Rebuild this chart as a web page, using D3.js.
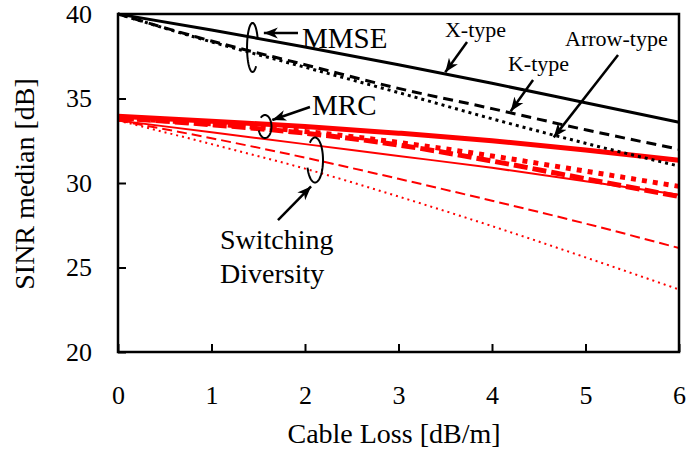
<!DOCTYPE html>
<html lang="en">
<head>
<meta charset="utf-8">
<script src="https://cdn.jsdelivr.net/npm/d3@7"></script>
<style>
  body { margin: 0; background: #fff; }
  svg, svg text { font-family: "Liberation Serif", "Times New Roman", Times, "DejaVu Serif", serif; fill: #000; }
</style>
<title></title>
</head>
<body>
<script>
// cable loss [dB/m]
var cableLoss = [0, 1, 2, 3, 4, 5, 6];

// MMSE (black)
var mmseX     = [40, 39.05, 38.05, 37.0, 35.9, 34.75, 33.6];
var mmseK     = [40, 38.4, 37.0, 35.6, 34.4, 33.15, 32.0];
var mmseArrow = [40, 38.35, 36.85, 35.35, 33.8, 32.35, 31.0];

// MRC (thick red)
var mrcX     = [33.95, 33.65, 33.35, 32.95, 32.5, 31.95, 31.35];
var mrcK     = [33.85, 33.45, 32.95, 32.25, 31.3, 30.25, 29.2];
var mrcArrow = [33.85, 33.5, 33.05, 32.4, 31.6, 30.7, 29.8];

// switching diversity (thin red)
var sdX     = [33.7, 33.0, 32.3, 31.6, 30.9, 30.1, 29.3];
var sdK     = [33.7, 32.65, 31.5, 30.25, 28.95, 27.6, 26.15];
var sdArrow = [33.7, 32.3, 30.85, 29.2, 27.45, 25.6, 23.7];

var xTicks = [0, 1, 2, 3, 4, 5, 6];
var yTicks = [20, 25, 30, 35, 40];

var serif = "'Liberation Serif', 'Times New Roman', Times, 'DejaVu Serif', serif";
var width = 687, height = 452;
var x = d3.scaleLinear().domain([0, 6]).range([118, 679]);
var y = d3.scaleLinear().domain([20, 40]).range([352, 14]);

var svg = d3.select("body").append("svg")
  .attr("width", width).attr("height", height)
  .attr("font-family", serif);

svg.append("defs").append("marker")
  .attr("id", "head")
  .attr("markerUnits", "userSpaceOnUse")
  .attr("viewBox", "-14 -6 15 12")
  .attr("markerWidth", 15).attr("markerHeight", 12)
  .attr("refX", 0).attr("refY", 0)
  .attr("orient", "auto")
  .append("path")
  .attr("d", "M0,0L-14,-5.5L-10,0L-14,5.5Z")
  .attr("fill", "#000");

// series, drawn back to front
var series = [
  {v: sdArrow, color: "red", w: 2, dash: "2,4"},
  {v: sdK, color: "red", w: 2, dash: "10,5"},
  {v: sdX, color: "red", w: 2, dash: null},
  {v: mrcK, color: "red", w: 5, dash: "14,5"},
  {v: mrcArrow, color: "red", w: 5, dash: "5,6"},
  {v: mrcX, color: "red", w: 5, dash: null},
  {v: mmseArrow, color: "#000", w: 3, dash: "3,4"},
  {v: mmseK, color: "#000", w: 3, dash: "10,6"},
  {v: mmseX, color: "#000", w: 3, dash: null}
];

var line = d3.line()
  .x(function(d, i) { return x(cableLoss[i]); })
  .y(function(d) { return y(d); })
  .curve(d3.curveMonotoneX);

svg.append("g").attr("class", "series")
  .selectAll("path")
  .data(series)
  .enter().append("path")
  .attr("d", function(d) { return line(d.v); })
  .attr("fill", "none")
  .attr("stroke", function(d) { return d.color; })
  .attr("stroke-width", function(d) { return d.w; })
  .attr("stroke-dasharray", function(d) { return d.dash; });

// axes with inward ticks
var xAxis = svg.append("g")
  .attr("transform", "translate(0,352)")
  .call(d3.axisBottom(x).tickValues(xTicks).tickFormat(d3.format("d"))
    .tickSizeInner(-8).tickSizeOuter(0).tickPadding(34));
var yAxis = svg.append("g")
  .attr("transform", "translate(118,0)")
  .call(d3.axisLeft(y).tickValues(yTicks).tickFormat(d3.format("d"))
    .tickSizeInner(-8).tickSizeOuter(0).tickPadding(26));

[xAxis, yAxis].forEach(function(a) {
  a.attr("font-family", serif).attr("font-size", 26);
  a.select(".domain").remove();
  a.selectAll(".tick line").attr("stroke", "#000").attr("stroke-width", 2);
  a.selectAll(".tick text").attr("fill", "#000");
});

svg.append("rect")
  .attr("x", x(0)).attr("y", y(40))
  .attr("width", x(6) - x(0)).attr("height", y(20) - y(40))
  .attr("fill", "none").attr("stroke", "#000").attr("stroke-width", 2.5);

svg.append("text")
  .attr("x", 394).attr("y", 443)
  .attr("text-anchor", "middle")
  .attr("font-size", 28)
  .text("Cable Loss [dB/m]");

svg.append("text")
  .attr("transform", "translate(34,184) rotate(-90)")
  .attr("text-anchor", "middle")
  .attr("font-size", 28)
  .text("SINR median [dB]");

// annotations (data units)
var labels = [
  {t: "MMSE", x: 1.968, y: 37.99, size: 29},
  {t: "MRC", x: 2.075, y: 34.02, size: 29},
  {t: "Switching", x: 1.091, y: 26.09, size: 28},
  {t: "Diversity", x: 1.091, y: 24.08, size: 28},
  {t: "X-type", x: 3.497, y: 38.64, size: 22},
  {t: "K-type", x: 4.171, y: 36.63, size: 22},
  {t: "Arrow-type", x: 4.781, y: 38.11, size: 22}
];

var arrows = [
  {x1: 1.925, y1: 38.876, x2: 1.560, y2: 38.876},
  {x1: 2.053, y1: 34.50, x2: 1.650, y2: 33.73},
  {x1: 1.711, y1: 27.81, x2: 2.065, y2: 29.80},
  {x1: 3.733, y1: 38.34, x2: 3.500, y2: 36.55},
  {x1: 4.439, y1: 36.09, x2: 4.200, y2: 34.25},
  {x1: 5.348, y1: 37.57, x2: 4.660, y2: 32.70}
];

// rings round groups of curves; gap on side "r" or "l"
var rings = [
  {x: 1.439, y: 38.02, rx: 5.5, ry: 24.5, gap: "r"},
  {x: 1.572, y: 33.34, rx: 6.5, ry: 11.5, gap: "l"},
  {x: 2.107, y: 31.36, rx: 8, ry: 22.5, gap: "l"}
];

svg.append("g").selectAll("path")
  .data(rings)
  .enter().append("path")
  .attr("d", function(d) {
    var a0 = d.gap === "r" ? 50 : 230, a1 = d.gap === "r" ? 340 : 520;
    var pts = d3.range(a0, a1 + 1, 5).map(function(a) {
      var t = a * Math.PI / 180;
      return [x(d.x) + d.rx * Math.cos(t), y(d.y) + d.ry * Math.sin(t)];
    });
    return "M" + pts.join("L");
  })
  .attr("fill", "none").attr("stroke", "#000").attr("stroke-width", 2);

svg.append("g").selectAll("line")
  .data(arrows)
  .enter().append("line")
  .attr("x1", function(d) { return x(d.x1); })
  .attr("y1", function(d) { return y(d.y1); })
  .attr("x2", function(d) { return x(d.x2); })
  .attr("y2", function(d) { return y(d.y2); })
  .attr("stroke", "#000").attr("stroke-width", 2.5)
  .attr("marker-end", "url(#head)");

svg.append("g").selectAll("text")
  .data(labels)
  .enter().append("text")
  .attr("x", function(d) { return x(d.x); })
  .attr("y", function(d) { return y(d.y); })
  .attr("font-size", function(d) { return d.size; })
  .text(function(d) { return d.t; });
</script>
</body>
</html>
